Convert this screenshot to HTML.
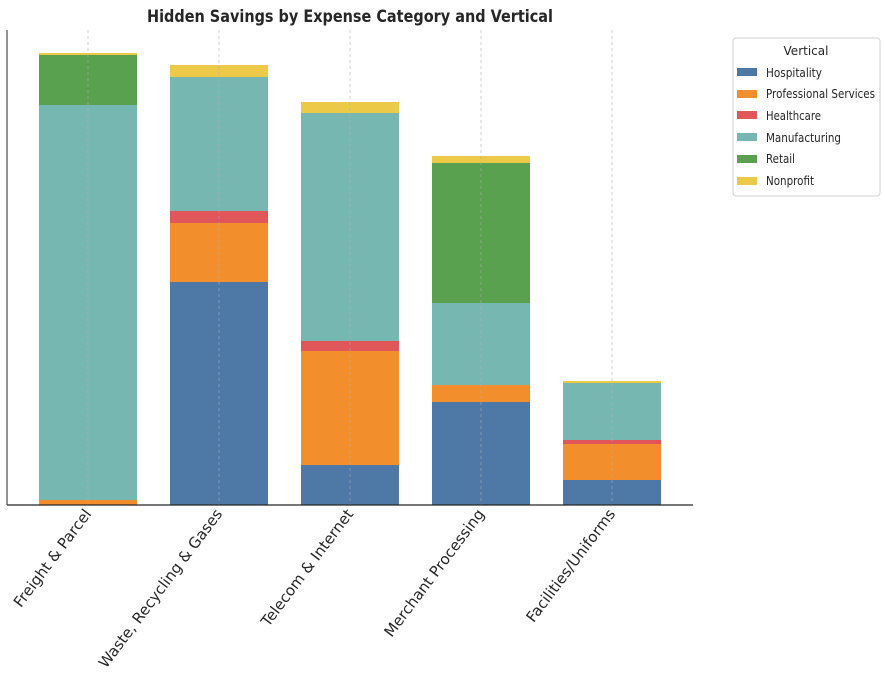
<!DOCTYPE html><html><head><meta charset="utf-8"><style>body{margin:0;background:#fff}svg{display:block}</style></head><body>
<svg width="885" height="678" xmlns="http://www.w3.org/2000/svg" font-family="DejaVu Sans, Liberation Sans, sans-serif">
<rect width="885" height="678" fill="#fff"/>
<text x="350" y="22" text-anchor="middle" font-size="17" font-weight="bold" fill="#262626" textLength="406" lengthAdjust="spacingAndGlyphs">Hidden Savings by Expense Category and Vertical</text>
<g>
<rect x="39" y="500" width="98" height="5" fill="#f28e2b"/>
<rect x="39" y="105" width="98" height="395" fill="#76b7b2"/>
<rect x="39" y="55" width="98" height="50" fill="#59a14f"/>
<rect x="39" y="53" width="98" height="2" fill="#edc948"/>
<rect x="170" y="282" width="98" height="223" fill="#4e79a7"/>
<rect x="170" y="223" width="98" height="59" fill="#f28e2b"/>
<rect x="170" y="211" width="98" height="12" fill="#e15759"/>
<rect x="170" y="77" width="98" height="134" fill="#76b7b2"/>
<rect x="170" y="65" width="98" height="12" fill="#edc948"/>
<rect x="301" y="465" width="98" height="40" fill="#4e79a7"/>
<rect x="301" y="351" width="98" height="114" fill="#f28e2b"/>
<rect x="301" y="341" width="98" height="10" fill="#e15759"/>
<rect x="301" y="113" width="98" height="228" fill="#76b7b2"/>
<rect x="301" y="102" width="98" height="11" fill="#edc948"/>
<rect x="432" y="402" width="98" height="103" fill="#4e79a7"/>
<rect x="432" y="385" width="98" height="17" fill="#f28e2b"/>
<rect x="432" y="303" width="98" height="82" fill="#76b7b2"/>
<rect x="432" y="163" width="98" height="140" fill="#59a14f"/>
<rect x="432" y="156" width="98" height="7" fill="#edc948"/>
<rect x="563" y="480" width="98" height="25" fill="#4e79a7"/>
<rect x="563" y="444" width="98" height="36" fill="#f28e2b"/>
<rect x="563" y="440" width="98" height="4" fill="#e15759"/>
<rect x="563" y="383" width="98" height="57" fill="#76b7b2"/>
<rect x="563" y="381" width="98" height="2" fill="#edc948"/>
</g>
<g stroke="#b0b0b0" stroke-width="0.8" stroke-dasharray="3,3" opacity="0.7">
<line x1="88" y1="30" x2="88" y2="505"/><line x1="219" y1="30" x2="219" y2="505"/><line x1="350" y1="30" x2="350" y2="505"/><line x1="481" y1="30" x2="481" y2="505"/><line x1="612" y1="30" x2="612" y2="505"/>
</g>
<line x1="7" y1="30" x2="7" y2="505" stroke="#262626" stroke-width="1"/>
<line x1="7" y1="505" x2="693" y2="505" stroke="#262626" stroke-width="1.2"/>
<g font-size="15" fill="#262626" text-anchor="end">
<text transform="translate(92,514) rotate(-53)">Freight &amp; Parcel</text>
<text transform="translate(223,514) rotate(-53)">Waste, Recycling &amp; Gases</text>
<text transform="translate(354,514) rotate(-53)">Telecom &amp; Internet</text>
<text transform="translate(485,514) rotate(-53)">Merchant Processing</text>
<text transform="translate(616,514) rotate(-53)">Facilities/Uniforms</text>
</g>
<rect x="733" y="38" width="147" height="158" rx="3" fill="#fff" stroke="#d0d0d0"/>
<g font-size="12" fill="#262626">
<text x="806" y="55" text-anchor="middle">Vertical</text>
<rect x="737" y="68" width="20" height="8" fill="#4e79a7"/><text x="766" y="77" textLength="56" lengthAdjust="spacingAndGlyphs">Hospitality</text>
<rect x="737" y="90" width="20" height="8" fill="#f28e2b"/><text x="766" y="98" textLength="109" lengthAdjust="spacingAndGlyphs">Professional Services</text>
<rect x="737" y="111" width="20" height="8" fill="#e15759"/><text x="766" y="120" textLength="55" lengthAdjust="spacingAndGlyphs">Healthcare</text>
<rect x="737" y="133" width="20" height="8" fill="#76b7b2"/><text x="766" y="142" textLength="75" lengthAdjust="spacingAndGlyphs">Manufacturing</text>
<rect x="737" y="155" width="20" height="8" fill="#59a14f"/><text x="766" y="163" textLength="29" lengthAdjust="spacingAndGlyphs">Retail</text>
<rect x="737" y="177" width="20" height="8" fill="#edc948"/><text x="766" y="185" textLength="48" lengthAdjust="spacingAndGlyphs">Nonprofit</text>
</g>
</svg>
</body></html>
